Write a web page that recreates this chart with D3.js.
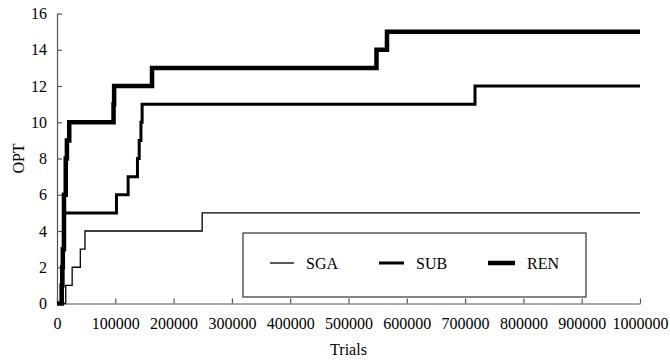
<!DOCTYPE html>
<html>
<head>
<meta charset="utf-8">
<script src="https://cdn.jsdelivr.net/npm/d3@7"></script>
<style>
  html, body { margin: 0; padding: 0; background: #fff; }
  svg { display: block; }
  text { font-family: "Liberation Serif", "Times New Roman", serif; fill: #000; }
</style>
</head>
<body>
<svg id="chart" width="670" height="360"></svg>
<script>
// Tick values
const trialTicks = [0, 100000, 200000, 300000, 400000, 500000, 600000, 700000, 800000, 900000, 1000000];
const optTicks = [0, 2, 4, 6, 8, 10, 12, 14, 16];

// Best OPT found so far versus trials, one step series per method
const sgaTrials = [0, 15000, 26000, 40000, 48000, 249000, 1000000];
const sgaOpt    = [0, 1, 2, 3, 4, 5, 5];

const subTrials = [0, 9000, 10000, 10500, 11000, 12000, 102000, 122000, 138000, 141000, 144000, 146000, 717000, 1000000];
const subOpt    = [0, 1, 2, 3, 4, 5, 6, 7, 8, 9, 10, 11, 12, 12];

const renTrials = [0, 8000, 9000, 10000, 12000, 15000, 17000, 21000, 97000, 98000, 163000, 548000, 566000, 1000000];
const renOpt    = [0, 1, 2, 3, 6, 8, 9, 10, 11, 12, 13, 14, 15, 15];

const seriesNames = ["SGA", "SUB", "REN"];
const seriesWidths = [1.3, 3, 4.5];

const series = [
  { name: seriesNames[0], width: seriesWidths[0], pts: sgaTrials.map((t, i) => [t, sgaOpt[i]]) },
  { name: seriesNames[1], width: seriesWidths[1], pts: subTrials.map((t, i) => [t, subOpt[i]]) },
  { name: seriesNames[2], width: seriesWidths[2], pts: renTrials.map((t, i) => [t, renOpt[i]]) }
];

const svg = d3.select("#chart");
const plot = { left: 57, right: 640, top: 13.5, bottom: 303.5 };

const x = d3.scaleLinear().domain([0, 1000000]).range([plot.left, plot.right]);
const y = d3.scaleLinear().domain([0, 16]).range([plot.bottom, plot.top]);

const axisColor = "#555";

// x axis with inward ticks
const gx = svg.append("g")
  .attr("transform", `translate(0,${plot.bottom})`)
  .call(d3.axisBottom(x).tickValues(trialTicks).tickFormat(d3.format("d"))
    .tickSizeInner(-5).tickSizeOuter(0).tickPadding(14));
gx.selectAll("text").attr("font-size", 16).attr("font-family", "Liberation Serif");

// y axis with inward ticks
const gy = svg.append("g")
  .attr("transform", `translate(${plot.left},0)`)
  .call(d3.axisLeft(y).tickValues(optTicks).tickFormat(d3.format("d"))
    .tickSizeInner(-5).tickSizeOuter(0).tickPadding(10));
gy.selectAll("text").attr("font-size", 16).attr("font-family", "Liberation Serif");

svg.selectAll(".domain, .tick line").attr("stroke", axisColor).attr("stroke-width", 1.2);

// axis titles
svg.append("text")
  .attr("x", (plot.left + plot.right) / 2).attr("y", 355)
  .attr("text-anchor", "middle").attr("font-size", 16)
  .text("Trials");

svg.append("text")
  .attr("transform", `translate(24,${(plot.top + plot.bottom) / 2}) rotate(-90)`)
  .attr("text-anchor", "middle").attr("font-size", 16)
  .text("OPT");

// step lines
const line = d3.line()
  .x(d => x(d[0]))
  .y(d => y(d[1]))
  .curve(d3.curveStepAfter);

svg.append("g").selectAll("path")
  .data(series)
  .join("path")
  .attr("d", d => line(d.pts))
  .attr("fill", "none")
  .attr("stroke", "#000")
  .attr("stroke-width", d => d.width)
  .attr("stroke-linejoin", "miter");

// legend
const lg = svg.append("g");
lg.append("rect")
  .attr("x", 243).attr("y", 233).attr("width", 343).attr("height", 64)
  .attr("fill", "#fff").attr("stroke", "#333").attr("stroke-width", 1.2);

const legendX = [270, 379, 488];
const legendLen = [24, 25, 27];
series.forEach((s, i) => {
  lg.append("line")
    .attr("x1", legendX[i]).attr("x2", legendX[i] + legendLen[i])
    .attr("y1", 263).attr("y2", 263)
    .attr("stroke", "#000").attr("stroke-width", s.width);
  lg.append("text")
    .attr("x", legendX[i] + legendLen[i] + 12).attr("y", 263)
    .attr("dy", "0.35em").attr("font-size", 16)
    .text(s.name);
});
</script>
</body>
</html>
